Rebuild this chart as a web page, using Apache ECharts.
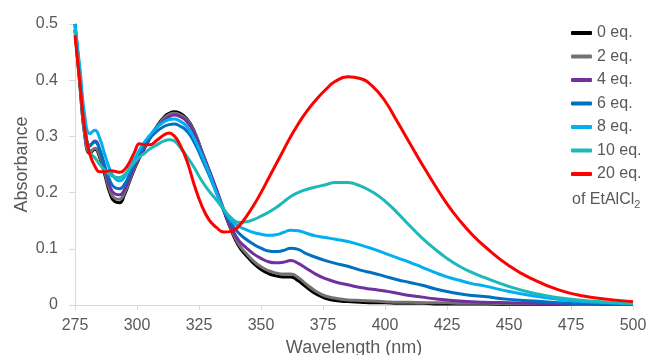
<!DOCTYPE html>
<html>
<head>
<meta charset="utf-8">
<script src="https://cdn.jsdelivr.net/npm/echarts@6/dist/echarts.min.js"></script>
<style>
  html, body { margin: 0; padding: 0; background: #fff; }
  #chart { width: 652px; height: 355px; }
</style>
</head>
<body>
<div id="chart"></div>
<script>
  // wavelength (nm)
  var wavelengths = [275, 277, 279, 281, 283, 285, 287, 289, 291, 293, 295, 297, 299, 301, 303, 305,
    308, 311, 313, 315, 317, 320, 323, 326, 329, 332, 335, 338, 341, 344, 347, 350, 353, 356, 359, 362, 365, 368,
    372, 376, 380, 385, 390, 395, 400, 405, 410, 415, 420, 425, 430, 435, 440, 450, 460, 470, 480, 490, 500];

  var eq0 = [0.49, 0.39, 0.30, 0.27, 0.277, 0.262, 0.232, 0.2, 0.184, 0.182, 0.197, 0.22, 0.242, 0.262, 0.279, 0.295,
    0.318, 0.335, 0.341, 0.344, 0.342, 0.332, 0.31, 0.275, 0.24, 0.205, 0.168, 0.133, 0.105, 0.088, 0.074, 0.063, 0.056, 0.052, 0.05, 0.05, 0.043, 0.033,
    0.02, 0.012, 0.008, 0.006, 0.005, 0.004, 0.004, 0.003, 0.003, 0.003, 0.002, 0.002, 0.002, 0.002, 0.002, 0.001, 0.001, 0.001, 0.001, 0.001, 0.001];
  var eq2 = [0.49, 0.39, 0.30, 0.272, 0.279, 0.265, 0.236, 0.205, 0.19, 0.188, 0.2, 0.222, 0.244, 0.264, 0.281, 0.296,
    0.317, 0.333, 0.339, 0.341, 0.339, 0.33, 0.309, 0.275, 0.241, 0.206, 0.17, 0.135, 0.108, 0.092, 0.078, 0.068, 0.061, 0.057, 0.055, 0.055, 0.049, 0.038,
    0.025, 0.016, 0.012, 0.009, 0.008, 0.007, 0.006, 0.005, 0.005, 0.004, 0.004, 0.004, 0.003, 0.003, 0.003, 0.002, 0.002, 0.002, 0.001, 0.001, 0.001];
  var eq4 = [0.5, 0.40, 0.31, 0.283, 0.292, 0.275, 0.242, 0.212, 0.198, 0.196, 0.206, 0.226, 0.247, 0.266, 0.282, 0.296,
    0.316, 0.329, 0.335, 0.338, 0.336, 0.327, 0.306, 0.273, 0.24, 0.205, 0.168, 0.138, 0.115, 0.102, 0.091, 0.083, 0.077, 0.075, 0.076, 0.079, 0.074, 0.066,
    0.055, 0.047, 0.041, 0.036, 0.031, 0.028, 0.025, 0.021, 0.017, 0.014, 0.011, 0.009, 0.007, 0.006, 0.005, 0.004, 0.003, 0.002, 0.002, 0.001, 0.001];
  var eq6 = [0.5, 0.41, 0.32, 0.284, 0.29, 0.276, 0.248, 0.222, 0.209, 0.207, 0.215, 0.233, 0.252, 0.269, 0.284, 0.296,
    0.309, 0.318, 0.321, 0.322, 0.319, 0.31, 0.29, 0.262, 0.232, 0.2, 0.168, 0.145, 0.128, 0.117, 0.108, 0.101, 0.096, 0.095, 0.097, 0.101, 0.099, 0.092,
    0.085, 0.079, 0.074, 0.069, 0.062, 0.057, 0.051, 0.045, 0.04, 0.035, 0.029, 0.024, 0.02, 0.017, 0.015, 0.01, 0.007, 0.004, 0.003, 0.002, 0.001];
  var eq8 = [0.5, 0.42, 0.335, 0.305, 0.311, 0.296, 0.268, 0.242, 0.226, 0.221, 0.228, 0.243, 0.26, 0.276, 0.29, 0.301,
    0.316, 0.326, 0.33, 0.331, 0.328, 0.318, 0.297, 0.268, 0.236, 0.2, 0.17, 0.15, 0.14, 0.134, 0.129, 0.126, 0.124, 0.125, 0.129, 0.133, 0.132, 0.128,
    0.123, 0.12, 0.117, 0.113, 0.107, 0.1, 0.092, 0.084, 0.076, 0.067, 0.058, 0.05, 0.044, 0.038, 0.034, 0.024, 0.016, 0.01, 0.006, 0.004, 0.002];
  var eq10 = [0.49, 0.40, 0.31, 0.272, 0.262, 0.25, 0.24, 0.232, 0.228, 0.227, 0.232, 0.243, 0.254, 0.263, 0.27, 0.277,
    0.285, 0.292, 0.294, 0.292, 0.283, 0.265, 0.245, 0.222, 0.203, 0.187, 0.17, 0.155, 0.147, 0.148, 0.152, 0.158, 0.165, 0.173, 0.183, 0.193, 0.2, 0.205,
    0.21, 0.214, 0.218, 0.218, 0.212, 0.201, 0.185, 0.164, 0.141, 0.119, 0.1, 0.083, 0.069, 0.058, 0.049, 0.033, 0.021, 0.013, 0.008, 0.005, 0.003];
  var eq20 = [0.48, 0.395, 0.31, 0.268, 0.247, 0.237, 0.237, 0.239, 0.238, 0.236, 0.241, 0.254, 0.272, 0.287, 0.285, 0.285,
    0.293, 0.303, 0.306, 0.301, 0.288, 0.258, 0.215, 0.178, 0.152, 0.138, 0.13, 0.131, 0.14, 0.157, 0.177, 0.2, 0.225, 0.25, 0.275, 0.3, 0.322, 0.342,
    0.364, 0.383, 0.398, 0.406, 0.403, 0.389, 0.363, 0.326, 0.288, 0.25, 0.214, 0.18, 0.151, 0.126, 0.105, 0.07, 0.045, 0.027, 0.016, 0.01, 0.006];

  var seriesNames = ['0 eq.', '2 eq.', '4 eq.', '6 eq.', '8 eq.', '10 eq.', '20 eq.'];
  var seriesValues = [eq0, eq2, eq4, eq6, eq8, eq10, eq20];
  var colors = ['#000000', '#767171', '#7030a0', '#0070c0', '#00b0f0', '#1fb8b8', '#ff0000'];

  var font = 'Liberation Sans, Arial, sans-serif';
  var textColor = '#595959';

  function pairs(vals) {
    return wavelengths.map(function (w, i) { return [w, vals[i]]; });
  }

  var chart = echarts.init(document.getElementById('chart'));
  chart.setOption({
    animation: false,
    color: colors,
    grid: { left: 75, right: 19, top: 24, bottom: 50, outerBoundsMode: 'none' },
    legend: {
      orient: 'vertical',
      left: 571,
      top: 25,
      padding: 0,
      itemWidth: 21,
      itemHeight: 4,
      itemGap: 7.5,
      icon: 'roundRect',
      textStyle: { color: textColor, fontSize: 16, fontFamily: font },
      data: seriesNames
    },
    xAxis: {
      type: 'value',
      min: 275,
      max: 500,
      interval: 25,
      name: 'Wavelength (nm)',
      nameLocation: 'middle',
      nameGap: 34,
      nameMoveOverlap: false,
      nameTextStyle: { color: textColor, fontSize: 18, fontFamily: font },
      axisLine: { lineStyle: { color: '#d9d9d9', width: 1 } },
      axisTick: { show: true, length: 5, lineStyle: { color: '#d9d9d9' } },
      axisLabel: { color: textColor, fontSize: 16, fontFamily: font, margin: 13 },
      splitLine: { show: false }
    },
    yAxis: {
      type: 'value',
      min: 0,
      max: 0.5,
      interval: 0.1,
      name: 'Absorbance',
      nameLocation: 'middle',
      nameGap: 44,
      nameMoveOverlap: false,
      nameTextStyle: { color: textColor, fontSize: 18, fontFamily: font },
      axisLine: { show: true, lineStyle: { color: '#d9d9d9', width: 1 } },
      axisTick: { show: true, length: 6, lineStyle: { color: '#d9d9d9' } },
      axisLabel: { color: textColor, fontSize: 16, fontFamily: font, margin: 17 },
      splitLine: { show: false }
    },
    graphic: [{
      type: 'text',
      left: 572,
      top: 192,
      style: {
        text: '{a|of EtAlCl}{b|2}',
        rich: {
          a: { fontSize: 16, fontFamily: font, fill: textColor },
          b: { fontSize: 11, fontFamily: font, fill: textColor, padding: [9, 0, 0, 0] }
        }
      }
    }],
    series: seriesValues.map(function (vals, i) {
      return {
        name: seriesNames[i],
        type: 'line',
        data: pairs(vals),
        smooth: 0.5,
        symbol: 'none',
        lineStyle: { width: 3, color: colors[i] },
        itemStyle: { color: colors[i] }
      };
    })
  });
</script>
</body>
</html>
